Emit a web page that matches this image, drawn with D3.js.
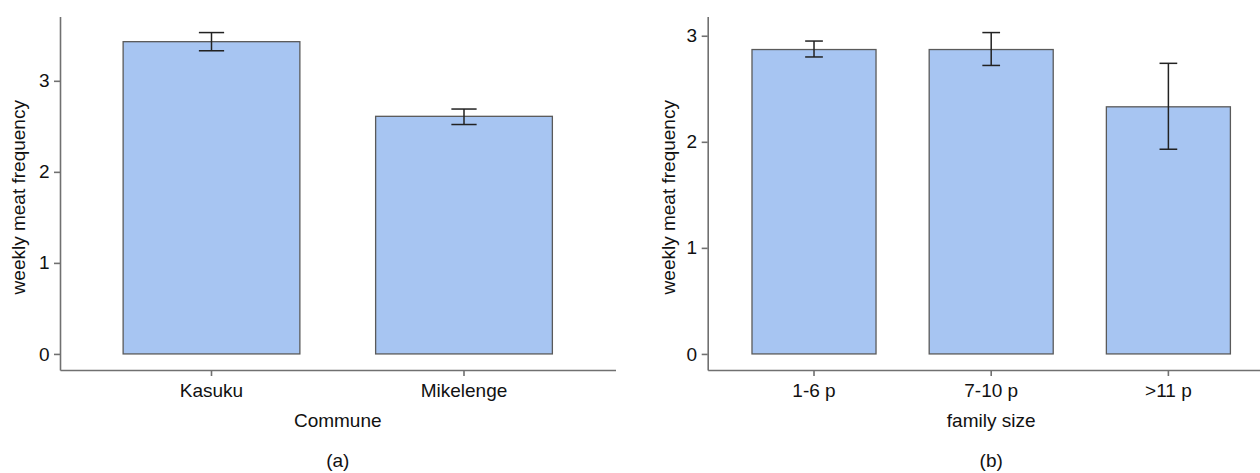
<!DOCTYPE html>
<html>
<head>
<meta charset="utf-8">
<script src="https://cdn.jsdelivr.net/npm/d3@7"></script>
<style>
  body { margin: 0; background: #fff; }
  svg { display: block; font-family: "Liberation Sans", Arial, Helvetica, sans-serif; }
</style>
</head>
<body>
<svg id="chart" width="1260" height="473"></svg>
<script>
// panel (a): commune
var communes = ["Kasuku", "Mikelenge"];
var communeMean = [3.43, 2.61];
var communeLow = [3.33, 2.52];
var communeHigh = [3.53, 2.69];

// panel (b): family size
var families = ["1-6 p", "7-10 p", ">11 p"];
var familyMean = [2.87, 2.87, 2.33];
var familyLow = [2.80, 2.72, 1.93];
var familyHigh = [2.95, 3.03, 2.74];

var yTicks = [0, 1, 2, 3];

var svg = d3.select("#chart");

function panel(opts) {
    var g = svg.append("g");
    var top = 16.5, bottom = 370;

    var rows = opts.cats.map(function (c, i) {
        return {cat: c, mean: opts.mean[i], low: opts.low[i], high: opts.high[i]};
    });

    // ggplot style 5% expansion on the y axis
    var maxV = d3.max(rows, function (d) { return d.high; });
    var pad = maxV * 0.05;
    var y = d3.scaleLinear().domain([-pad, maxV + pad]).range([bottom, top]);

    var x = d3.scaleBand()
        .domain(opts.cats)
        .range([opts.left, opts.right])
        .paddingInner(0.3)
        .paddingOuter(0.25);

    // bars
    g.selectAll("rect.bar")
        .data(rows)
        .enter()
        .append("rect")
        .attr("class", "bar")
        .attr("x", function (d) { return x(d.cat); })
        .attr("width", x.bandwidth())
        .attr("y", function (d) { return y(d.mean); })
        .attr("height", function (d) { return y(0) - y(d.mean); })
        .style("fill", "#a7c5f2")
        .style("stroke", "#5a5a5a")
        .style("stroke-width", 1.3);

    // error bars
    var capW = x.step() * 0.1;
    var eb = g.selectAll("g.err")
        .data(rows)
        .enter()
        .append("g")
        .attr("class", "err")
        .style("stroke", "#222")
        .style("stroke-width", 1.5);
    eb.append("line")
        .attr("x1", function (d) { return x(d.cat) + x.bandwidth() / 2; })
        .attr("x2", function (d) { return x(d.cat) + x.bandwidth() / 2; })
        .attr("y1", function (d) { return y(d.low); })
        .attr("y2", function (d) { return y(d.high); });
    eb.append("line")
        .attr("x1", function (d) { return x(d.cat) + x.bandwidth() / 2 - capW / 2; })
        .attr("x2", function (d) { return x(d.cat) + x.bandwidth() / 2 + capW / 2; })
        .attr("y1", function (d) { return y(d.high); })
        .attr("y2", function (d) { return y(d.high); });
    eb.append("line")
        .attr("x1", function (d) { return x(d.cat) + x.bandwidth() / 2 - capW / 2; })
        .attr("x2", function (d) { return x(d.cat) + x.bandwidth() / 2 + capW / 2; })
        .attr("y1", function (d) { return y(d.low); })
        .attr("y2", function (d) { return y(d.low); });

    // axes
    var yAxis = g.append("g")
        .attr("transform", "translate(" + opts.left + ",0)")
        .call(d3.axisLeft(y).tickValues(yTicks).tickFormat(d3.format("d"))
            .tickSize(6).tickSizeOuter(0).tickPadding(4.5));
    var xAxis = g.append("g")
        .attr("transform", "translate(0," + bottom + ")")
        .call(d3.axisBottom(x).tickSize(6).tickSizeOuter(0).tickPadding(8));

    [yAxis, xAxis].forEach(function (a) {
        a.select(".domain").style("stroke", "#707070").style("stroke-width", 1.6);
        a.selectAll(".tick line").style("stroke", "#707070").style("stroke-width", 1.6);
        a.selectAll(".tick text")
            .style("font-size", "19px")
            .style("fill", "#111")
            .style("font-family", "'Liberation Sans', Arial, sans-serif");
    });

    var mid = (opts.left + opts.right) / 2;

    g.append("text")
        .attr("transform", "translate(" + opts.yTitleX + "," + ((top + bottom) / 2 + 4) + ") rotate(-90)")
        .attr("text-anchor", "middle")
        .style("font-size", "19px")
        .style("fill", "#111")
        .text("weekly meat frequency");

    g.append("text")
        .attr("x", mid)
        .attr("y", 427)
        .attr("text-anchor", "middle")
        .style("font-size", "19px")
        .style("fill", "#111")
        .text(opts.xTitle);

    g.append("text")
        .attr("x", mid)
        .attr("y", 467)
        .attr("text-anchor", "middle")
        .style("font-size", "19px")
        .style("fill", "#111")
        .text(opts.label);
}

panel({
    cats: communes, mean: communeMean, low: communeLow, high: communeHigh,
    left: 60, right: 615.5, yTitleX: 25, xTitle: "Commune", label: "(a)"
});

panel({
    cats: families, mean: familyMean, low: familyLow, high: familyHigh,
    left: 707.7, right: 1274.7, yTitleX: 675, xTitle: "family size", label: "(b)"
});
</script>
</body>
</html>
